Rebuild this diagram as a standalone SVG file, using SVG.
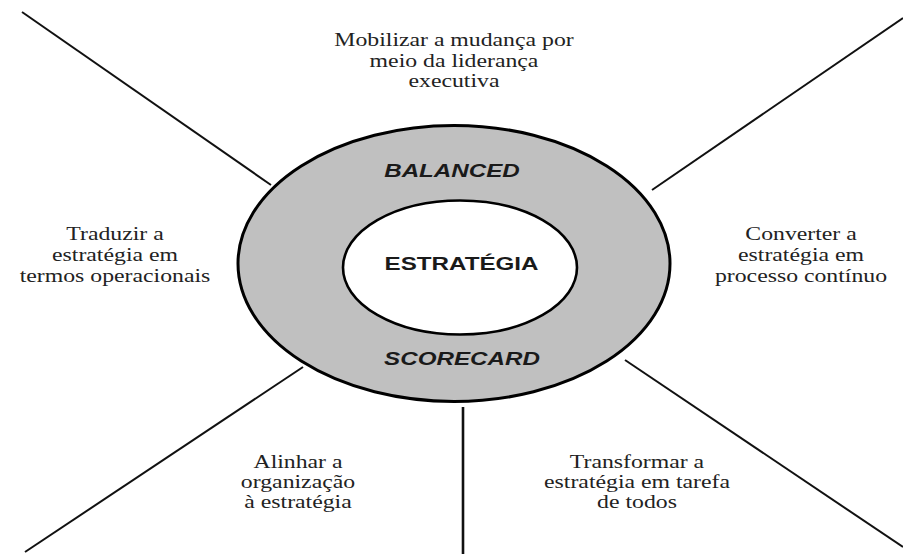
<svg xmlns="http://www.w3.org/2000/svg" width="903" height="554" viewBox="0 0 903 554">
<style>
.ln{stroke:#111;stroke-width:2;fill:none}
.lbl{font-family:'Liberation Serif','Tinos','DejaVu Serif',serif;font-size:19px;fill:#222;text-anchor:middle}
.ttl{font-family:'Liberation Sans',Arial,sans-serif;font-size:18.6px;font-weight:bold;fill:#1a1a1a;text-anchor:middle}
.it{font-style:italic}
</style>
<rect width="903" height="554" fill="#fff"/>
<g id="connectors">
<line class="ln" x1="22" y1="12" x2="271" y2="185"/>
<line class="ln" x1="903" y1="18" x2="652" y2="190"/>
<line class="ln" x1="303" y1="367" x2="25" y2="552"/>
<line class="ln" x1="463" y1="407" x2="463" y2="554" style="stroke-width:2.6"/>
<line class="ln" x1="625" y1="360" x2="903" y2="547"/>
</g>
<g id="balanced-scorecard">
<ellipse cx="454" cy="263.5" rx="216" ry="138" fill="#c0c0c0" stroke="#000" stroke-width="3"/>
<text class="ttl it" transform="translate(452,177) scale(1.3,1)">BALANCED</text>
<text class="ttl it" transform="translate(462,365) scale(1.3,1)">SCORECARD</text>
</g>
<g id="estrategia">
<ellipse cx="460" cy="267.5" rx="117" ry="67" fill="#fff" stroke="#000" stroke-width="2.6"/>
<text class="ttl" transform="translate(461.5,270) scale(1.3,1)">ESTRATÉGIA</text>
</g>
<g id="mobilizar">
<text class="lbl" font-family="Liberation Serif, serif" transform="translate(454,46) scale(1.25,1)">Mobilizar a mudança por</text>
<text class="lbl" font-family="Liberation Serif, serif" transform="translate(454,67) scale(1.25,1)">meio da liderança</text>
<text class="lbl" font-family="Liberation Serif, serif" transform="translate(454,87) scale(1.25,1)">executiva</text>
</g>
<g id="traduzir">
<text class="lbl" transform="translate(115,240) scale(1.25,1)">Traduzir a</text>
<text class="lbl" transform="translate(115,261) scale(1.25,1)">estratégia em</text>
<text class="lbl" transform="translate(115,282) scale(1.25,1)">termos operacionais</text>
</g>
<g id="converter">
<text class="lbl" transform="translate(801,240) scale(1.25,1)">Converter a</text>
<text class="lbl" transform="translate(801,261) scale(1.25,1)">estratégia em</text>
<text class="lbl" transform="translate(801,282) scale(1.25,1)">processo contínuo</text>
</g>
<g id="alinhar">
<text class="lbl" transform="translate(298,468) scale(1.25,1)">Alinhar a</text>
<text class="lbl" transform="translate(298,488) scale(1.25,1)">organização</text>
<text class="lbl" transform="translate(298,508) scale(1.25,1)">à estratégia</text>
</g>
<g id="transformar">
<text class="lbl" transform="translate(637,468) scale(1.25,1)">Transformar a</text>
<text class="lbl" transform="translate(637,488) scale(1.25,1)">estratégia em tarefa</text>
<text class="lbl" transform="translate(637,508) scale(1.25,1)">de todos</text>
</g>
</svg>
